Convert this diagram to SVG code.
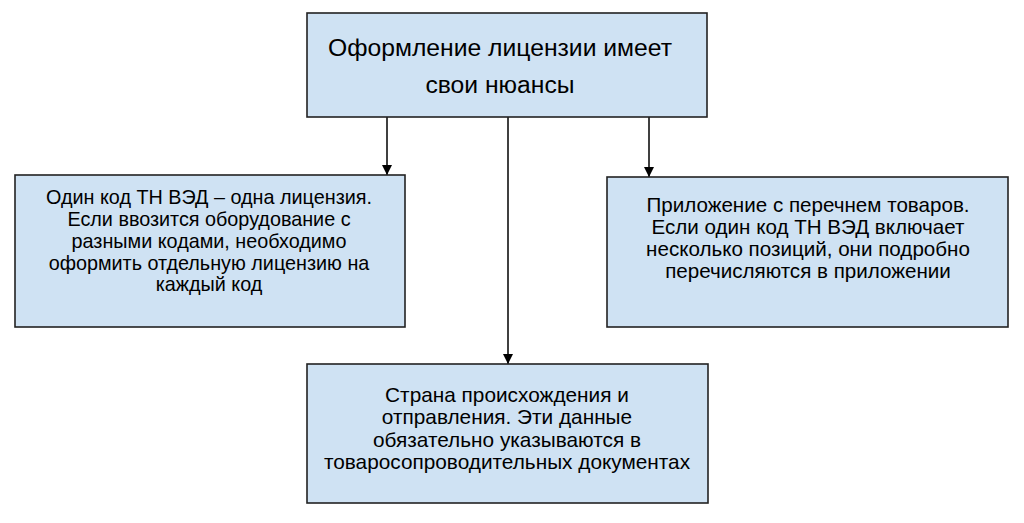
<svg xmlns="http://www.w3.org/2000/svg" width="1024" height="523" viewBox="0 0 1024 523">
<defs>
<marker id="arr" viewBox="0 0 10 10" refX="10" refY="5" markerWidth="10" markerHeight="10" markerUnits="userSpaceOnUse" orient="auto">
<path d="M0,0 L10,5 L0,10 Z" fill="#000"/>
</marker>
</defs>
<style>
.box{fill:#cfe2f3;stroke:#222;stroke-width:1.6}
.t{font-family:"Liberation Sans",Arial,sans-serif;fill:#000;text-anchor:middle}
.big{font-size:24.7px}
.l{font-size:19.8px}
.r{font-size:20.6px}
.b{font-size:20.8px}
.c{stroke:#000;stroke-width:1.5;fill:none}
</style>
<rect width="1024" height="523" fill="#fff"/>
<g id="connectors">
<line class="c" x1="387" y1="117" x2="387" y2="175" marker-end="url(#arr)"/>
<line class="c" x1="508" y1="117" x2="508" y2="364" marker-end="url(#arr)"/>
<line class="c" x1="649" y1="117" x2="649" y2="177" marker-end="url(#arr)"/>
</g>
<g id="top">
<rect class="box" x="307" y="13" width="400" height="104"/>
<text class="t big" x="500" y="56">Оформление лицензии имеет</text>
<text class="t big" x="500" y="93">свои нюансы</text>
</g>
<g id="left">
<rect class="box" x="15" y="175" width="390" height="152"/>
<text class="t l" x="209" y="204">Один код ТН ВЭД – одна лицензия.</text>
<text class="t l" x="209" y="226">Если ввозится оборудование с</text>
<text class="t l" x="209" y="248">разными кодами, необходимо</text>
<text class="t l" x="209" y="270">оформить отдельную лицензию на</text>
<text class="t l" x="209" y="291">каждый код</text>
</g>
<g id="right">
<rect class="box" x="607" y="177" width="401" height="150"/>
<text class="t r" x="808" y="212">Приложение с перечнем товаров.</text>
<text class="t r" x="808" y="234">Если один код ТН ВЭД включает</text>
<text class="t r" x="808" y="256">несколько позиций, они подробно</text>
<text class="t r" x="808" y="278">перечисляются в приложении</text>
</g>
<g id="bottom">
<rect class="box" x="307" y="364" width="401" height="139"/>
<text class="t b" x="507" y="402">Страна происхождения и</text>
<text class="t b" x="507" y="424">отправления. Эти данные</text>
<text class="t b" x="507" y="447">обязательно указываются в</text>
<text class="t b" x="507" y="469">товаросопроводительных документах</text>
</g>
</svg>
